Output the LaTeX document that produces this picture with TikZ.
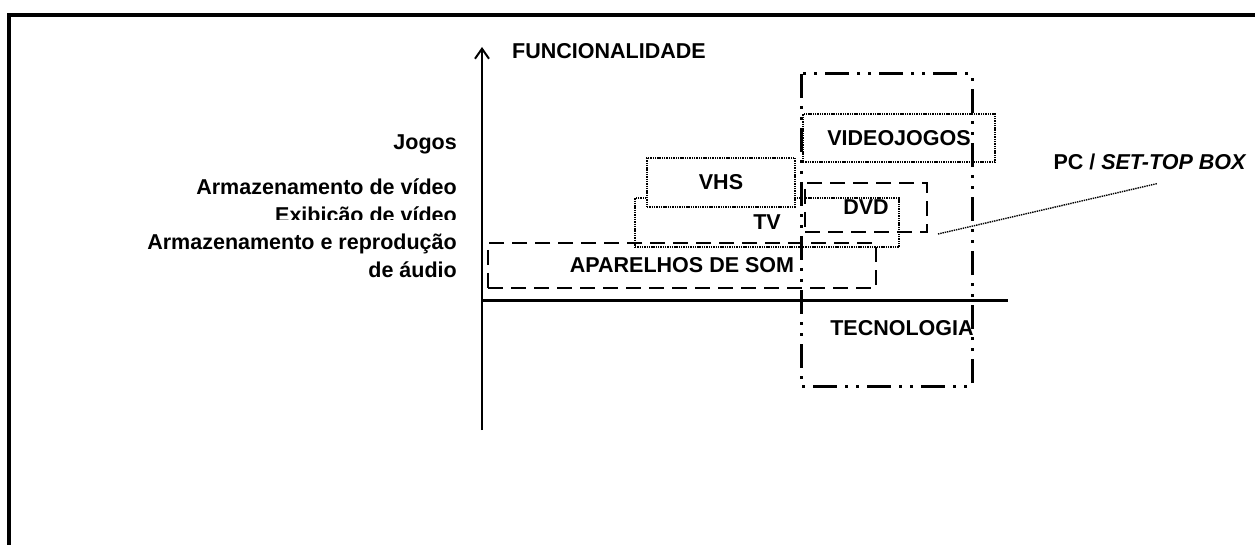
\documentclass[tikz,border=0pt]{standalone}
\usepackage{fontspec}
\setmainfont{Liberation Sans}
\usetikzlibrary{arrows.meta}
\begin{document}
\begin{tikzpicture}[x=1pt,y=-1pt,
  lbl/.style={font=\fontsize{21.5}{24}\selectfont\bfseries, inner sep=0pt},
  dotbox/.style={draw, line width=1.4pt, dash pattern=on 1.4pt off 0.9pt, lbl},
  dashbox/.style={draw, line width=2.6pt, dash pattern=on 15pt off 8pt, lbl},
  dashdot/.style={line width=3pt, dash pattern=on 24pt off 8pt on 3pt off 8pt on 3pt off 8pt},
  axis/.style={line width=2.2pt},
  pcline/.style={line width=1.4pt, dash pattern=on 1.4pt off 0.9pt}]
\useasboundingbox (0,0) rectangle (1255,545);
% frame
\draw[line width=4pt] (9,560) -- (9,15) -- (1270,15);
% axes
\coordinate (yb) at (482,430);
\coordinate (yt) at (482,47);
\coordinate (xl) at (482,300);
\coordinate (xr) at (1008,300);
\draw[axis,-{Straight Barb[length=10pt,width=14pt,line width=2pt]}] (yb) -- (yt);
\draw[line width=3pt] (xl) -- (xr);
\node[lbl, anchor=base west] (func) at (512,59) {FUNCIONALIDADE};
\node[lbl, anchor=base] (tec) at (902,335) {TECNOLOGIA};
% left labels
\node[lbl, anchor=base east] (jogos) at (457,150) {Jogos};
\node[lbl, anchor=base east] (armv) at (457,195) {Armazenamento de vídeo};
\begin{scope}
\clip (100,200) rectangle (470,220);
\node[lbl, anchor=base east] (exib) at (457,222.5) {Exibição de vídeo};
\end{scope}
\node[lbl, anchor=base east] (arma) at (457,250) {Armazenamento e reprodução};
\node[lbl, anchor=base east] (audio) at (457,278) {de áudio};
% boxes
\node[dashbox, minimum width=388pt, minimum height=45pt] (som) at (682,265.5) {APARELHOS DE SOM};
\node[dotbox, minimum width=264pt, minimum height=49pt] (tv) at (767,222.5) {TV};
\node[dotbox, fill=white, minimum width=148pt, minimum height=49pt] (vhs) at (721,182.5) {VHS};
\node[dashbox, minimum width=122pt, minimum height=49pt] (dvd) at (866,207.5) {DVD};
\node[dotbox, minimum width=192pt, minimum height=48pt] (vj) at (899,138) {VIDEOJOGOS};
% PC / set-top box region
\coordinate (pa) at (801,74);
\coordinate (pb) at (972,386);
\draw[dashdot] (pa) rectangle (pb);
\node[lbl, anchor=base] (pc) at (1150,170) {PC / \textit{SET-TOP BOX}};
\coordinate (la) at (938,234);
\draw[pcline] (la) -- ([xshift=7pt,yshift=-13pt]pc.south);
\end{tikzpicture}
\end{document}
